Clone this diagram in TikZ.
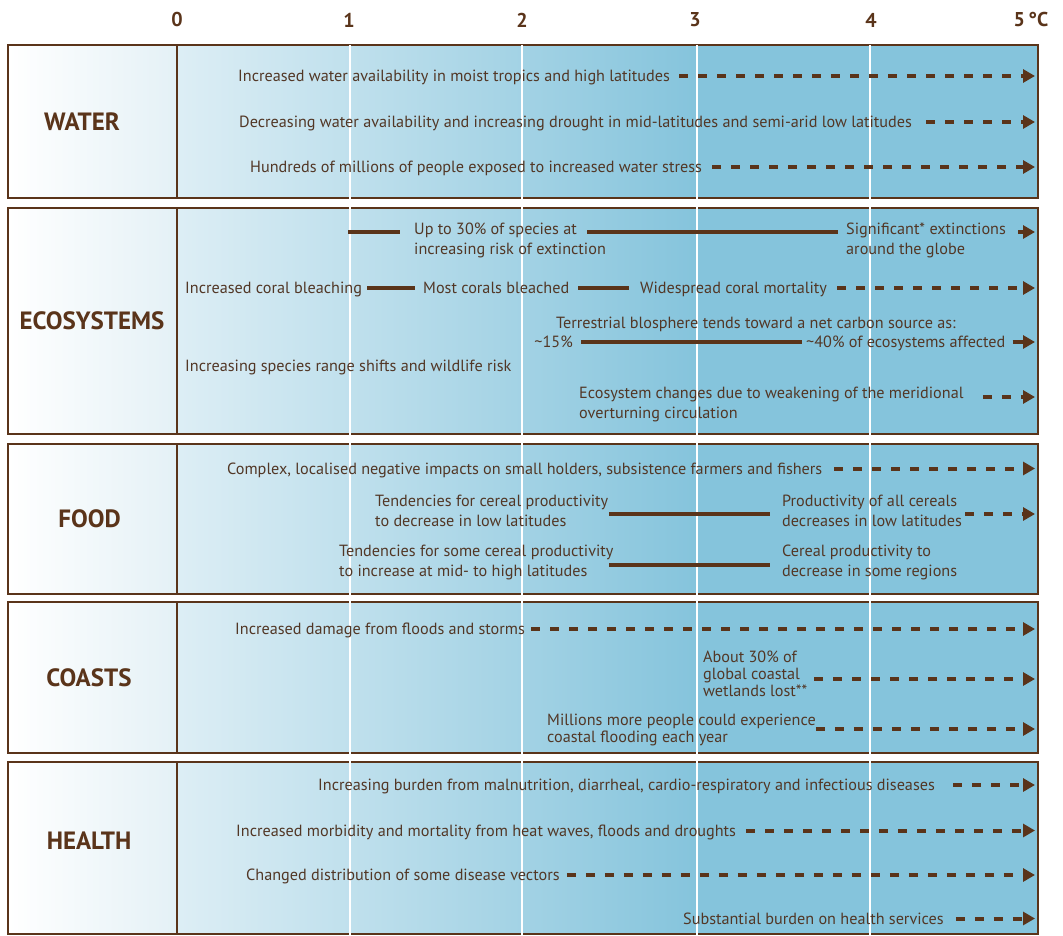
\documentclass[tikz,border=0pt]{standalone}
\usepackage{fontspec}
\setmainfont{PT Sans}
\usetikzlibrary{arrows.meta}

\definecolor{brn}{RGB}{90,52,26}
\definecolor{txtbrn}{RGB}{82,55,38}
\definecolor{cellL}{RGB}{228,241,246}
\definecolor{bluelt}{RGB}{221,238,245}
\definecolor{bluedk}{RGB}{133,196,220}

\begin{document}
\begin{tikzpicture}[x=1pt, y=-1pt,
    every node/.style={text=txtbrn},
    txt/.style={inner sep=0pt, anchor=west, text height=11.3pt, text depth=0pt,
        font=\fontsize{16.2}{18}\selectfont},
    lab/.style={font=\fontsize{25}{27}\selectfont\bfseries, text=brn},
    tick/.style={font=\fontsize{20}{22}\selectfont\bfseries, text=brn},
    bar/.style={draw=brn, line width=4pt},
    dashar/.style={draw=brn, line width=4pt, dash pattern=on 9pt off 10pt,
        -{Triangle[length=12pt,width=13pt]}},
    solar/.style={draw=brn, line width=4pt, -{Triangle[length=12pt,width=13pt]}}]

    \useasboundingbox (0,0) rectangle (1063,936);

    % 绘制各分区底色和边框
    \foreach \t/\b in {45/198, 208/434, 444/594, 602/753, 762/934} {
        \shade[left color=white, right color=cellL] (8,\t) rectangle (177,\b);
        \shade[left color=bluelt, right color=bluedk] (177,\t) rectangle (697,\b);
        \fill[bluedk] (697,\t) rectangle (1038,\b);
        \draw[brn, line width=2.5pt] (8,\t) rectangle (1038,\b);
        \draw[brn, line width=2.5pt] (177,\t) -- (177,\b);
    }

    % 绘制温度刻度线
    \foreach \x in {350,522,697,870}
        \draw[white, line width=2.3pt] (\x,45) -- (\x,936);

    % 标记温度刻度
    \foreach \x/\n in {177/0, 349/1, 522/2, 695/3, 871/4}
        \node[tick] (t\n) at (\x,20) {\n};
    \node[tick] (t5) at (1031,20) {5\,°C};

    % 箭头终点
    \coordinate (xend) at (1035,0);

    % WATER
    \node[lab] (water) at (82,122) {WATER};
    \node[txt] (w1) at (238,76) {Increased water availability in moist tropics and high latitudes};
    \node[txt] (w2) at (239,122) {Decreasing water availability and increasing drought in mid-latitudes and semi-arid low latitudes};
    \node[txt] (w3) at (250,167) {Hundreds of millions of people exposed to increased water stress};
    \draw[dashar, shorten <=9pt] (w1.east) -- (w1.east -| xend);
    \draw[dashar, shorten <=14pt] (w2.east) -- (w2.east -| xend);
    \draw[dashar, shorten <=10pt] (w3.east) -- (w3.east -| xend);

    % ECOSYSTEMS
    \node[lab] (eco) at (92,321) {ECOSYSTEMS};
    \coordinate (s0) at (348,232);
    \node[txt] (sp1) at (414,229) {Up to 30\% of species at};
    \node[txt] (sp2) at (414,248.5) {increasing risk of extinction};
    \node[txt] (sg1) at (846,229) {Significant* extinctions};
    \node[txt] (sg2) at (846,248.5) {around the globe};
    \draw[bar, shorten >=14pt] (s0) -- (s0 -| sp1.west);
    \draw[bar, shorten <=10pt, shorten >=8pt] (sp1.east |- s0) -- (sg1.west |- s0);
    \draw[solar, shorten <=12pt] (sg1.east |- s0) -- (s0 -| xend);

    \node[txt] (cb) at (185,288) {Increased coral bleaching};
    \node[txt] (mc) at (423,288) {Most corals bleached};
    \node[txt] (wm) at (640,288) {Widespread coral mortality};
    \draw[bar, shorten <=5pt, shorten >=8pt] (cb) -- (mc);
    \draw[bar, shorten <=9pt, shorten >=11pt] (mc) -- (wm);
    \draw[dashar, shorten <=10pt] (wm.east) -- (wm.east -| xend);

    \node[txt] (tb) at (556,322.5) {Terrestrial blosphere tends toward a net carbon source as:};
    \node[txt, anchor=east] (p15) at (573,342) {\textasciitilde15\%};
    \node[txt] (p40) at (806,342) {\textasciitilde40\% of ecosystems affected};
    \draw[bar, shorten <=8pt, shorten >=4pt] (p15) -- (p40);
    \draw[solar, shorten <=7pt] (p40.east) -- (p40.east -| xend);

    \node[txt] (rs) at (185,365.5) {Increasing species range shifts and wildlife risk};

    \node[txt] (mo1) at (579,393) {Ecosystem changes due to weakening of the meridional};
    \node[txt] (mo2) at (579,413) {overturning circulation};
    \draw[dashar, shorten <=19pt] ([yshift=-4pt]mo1.east) -- ([yshift=-4pt]mo1.east -| xend);

    % FOOD
    \node[lab] (food) at (89.5,519) {FOOD};
    \node[txt] (cx) at (227,468.5) {Complex, localised negative impacts on small holders, subsistence farmers and fishers};
    \draw[dashar, shorten <=12pt] (cx.east) -- (cx.east -| xend);

    \node[txt] (cd1) at (375,501) {Tendencies for cereal productivity};
    \node[txt] (cd2) at (375,521) {to decrease in low latitudes};
    \node[txt] (pa1) at (782,501) {Productivity of all cereals};
    \node[txt] (pa2) at (782,521) {decreases in low latitudes};
    \coordinate (cdl) at (609,514);
    \coordinate (cdr) at (770,514);
    \draw[bar] (cdl) -- (cdr);
    \draw[dashar, shorten <=3pt] (pa2.east |- cdr) -- (cdr -| xend);

    \node[txt] (ci1) at (339,551) {Tendencies for some cereal productivity};
    \node[txt] (ci2) at (339,571) {to increase at mid- to high latitudes};
    \node[txt] (cr1) at (782,551) {Cereal productivity to};
    \node[txt] (cr2) at (782,571) {decrease in some regions};
    \coordinate (cil) at (609,565);
    \coordinate (cir) at (770,565);
    \draw[bar] (cil) -- (cir);

    % COASTS
    \node[lab] (coast) at (89,678) {COASTS};
    \node[txt] (fd) at (235,629) {Increased damage from floods and storms};
    \draw[dashar, shorten <=6pt] (fd.east) -- (fd.east -| xend);

    \node[txt] (wl1) at (703,656.5) {About 30\% of};
    \node[txt] (wl2) at (703,674) {global coastal};
    \node[txt] (wl3) at (703,691) {wetlands lost**};
    \draw[dashar, shorten <=14pt] ([yshift=-5pt]wl2.east) -- ([yshift=-5pt]wl2.east -| xend);

    \node[txt] (cf1) at (547,719.5) {Millions more people could experience};
    \node[txt] (cf2) at (547,736.5) {coastal flooding each year};
    \draw[dashar] ([yshift=-9.5pt]cf1.east) -- ([yshift=-9.5pt]cf1.east -| xend);

    % HEALTH
    \node[lab] (health) at (89,841) {HEALTH};
    \node[txt] (hb) at (318,785) {Increasing burden from malnutrition, diarrheal, cardio-respiratory and infectious diseases};
    \node[txt] (hm) at (236,830.5) {Increased morbidity and mortality from heat waves, floods and droughts};
    \node[txt] (hv) at (246,875) {Changed distribution of some disease vectors};
    \node[txt] (hs) at (683,918.5) {Substantial burden on health services};
    \draw[dashar, shorten <=18pt] (hb.east) -- (hb.east -| xend);
    \draw[dashar, shorten <=10pt] (hm.east) -- (hm.east -| xend);
    \draw[dashar, shorten <=7pt] (hv.east) -- (hv.east -| xend);
    \draw[dashar, shorten <=12pt] (hs.east) -- (hs.east -| xend);
\end{tikzpicture}
\end{document}
